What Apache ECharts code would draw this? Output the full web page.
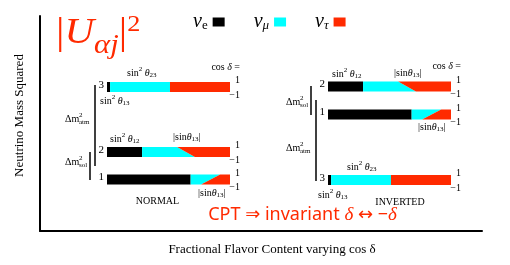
<!DOCTYPE html>
<html><head><meta charset="utf-8">
<script src="https://cdn.jsdelivr.net/npm/echarts@6/dist/echarts.min.js"></script>
<style>html,body{margin:0;padding:0;background:#fff}#c{width:510px;height:265px}</style>
</head><body><div id="c"></div>
<script>
// ---- data ----
const flavors = ['νe', 'νμ', 'ντ'];
const massStates = ['1', '2', '3'];
const normalLevels = [2.05, 4.8, 11.3];      // schematic mass-squared level (normal ordering)
const invertedLevels = [8.55, 11.35, 2.0];   // schematic mass-squared level (inverted ordering)
const nuE = [0.68, 0.285, 0.025];            // |U_e j|^2
const nuMuCosPlus = [0.24, 0.285, 0.487];    // |U_mu j|^2 at cos delta = 1
const nuMuCosMinus = [0.085, 0.43, 0.487];   // |U_mu j|^2 at cos delta = -1
const cosTicks = ['1', '−1'];

// ---- styling ----
const COLORS = ['#000000', '#00ffff', '#ff2a00'];
const RED = '#ff2a00';
const HALF = 0.5;
const SERIF = '"Liberation Serif", "DejaVu Serif", serif';

function rows(levels) {
  return massStates.map((m, i) => [levels[i], nuE[i], nuMuCosPlus[i], nuMuCosMinus[i]]);
}

function flavorRender(f) {
  return function (params, api) {
    const lvl = api.value(0), e = api.value(1), mt = api.value(2), mb = api.value(3);
    const tp = x => api.coord([x, lvl + HALF]);
    const bt = x => api.coord([x, lvl - HALF]);
    let pts;
    if (f === 0) pts = [tp(0), tp(e), bt(e), bt(0)];
    else if (f === 1) pts = [tp(e), tp(e + mt), bt(e + mb), bt(e)];
    else pts = [tp(e + mt), tp(1), bt(1), bt(e + mb)];
    return { type: 'polygon', shape: { points: pts }, style: { fill: COLORS[f] } };
  };
}

function labelRender(params, api) {
  const lvl = api.value(0);
  const s = api.coord([0, lvl]);
  const t = api.coord([1, lvl + HALF]);
  const b = api.coord([1, lvl - HALF]);
  const st = (text, size) => ({ text, font: size + 'px ' + SERIF, fill: '#000', align: 'right', verticalAlign: 'middle' });
  return { type: 'group', children: [
    { type: 'text', x: s[0] - 3, y: s[1] - 2, style: st(massStates[params.dataIndex], 11) },
    { type: 'text', x: t[0] + 10, y: t[1] - 1.5, style: st(cosTicks[0], 10) },
    { type: 'text', x: b[0] + 10, y: b[1] + 3, style: st(cosTicks[1], 10) }
  ] };
}

const series = [];
[normalLevels, invertedLevels].forEach((lv, g) => {
  flavors.forEach((name, f) => {
    series.push({ type: 'custom', name, xAxisIndex: g, yAxisIndex: g, itemStyle: { color: COLORS[f] },
      renderItem: flavorRender(f), data: rows(lv), silent: true });
  });
  series.push({ type: 'custom', name: 'labels' + g, xAxisIndex: g, yAxisIndex: g,
    renderItem: labelRender, data: rows(lv), silent: true });
});

const R = {
  t: { fontFamily: SERIF, fontSize: 10, fill: '#000' },
  i: { fontFamily: SERIF, fontSize: 10, fontStyle: 'italic', fill: '#000' },
  sup: { fontFamily: SERIF, fontSize: 7, fill: '#000', padding: [0, 0, 8, 0] },
  sub: { fontFamily: SERIF, fontSize: 7, fill: '#000', padding: [5, 0, 0, 0] }
};
function T(x, y, text, align) {
  return { type: 'text', x, y, silent: true,
    style: { text, rich: R, font: '10px ' + SERIF, fill: '#000', align: align || 'left', verticalAlign: 'middle' } };
}
const SIN2 = n => `{t|sin}{sup|2}{t| }{i|θ}{sub|${n}}`;
const ABS13 = '{t||sin}{i|θ}{sub|13}{t||}';
const COSD = '{t|cos }{i|δ}{t| =}';
function dm(x, y, sub) {
  const st = (text, size) => ({ text, font: size + 'px ' + SERIF, fill: '#000', align: 'left', verticalAlign: 'middle' });
  return { type: 'group', x, y, silent: true, children: [
    { type: 'text', x: 0, y: 0, style: st('Δm', 10) },
    { type: 'text', x: 14, y: -4, style: st('2', 7) },
    { type: 'text', x: 14, y: 3, style: st(sub, 7) }
  ] };
}
function L(x, y1, y2) {
  return { type: 'line', silent: true, shape: { x1: x, y1, x2: x, y2 }, style: { stroke: '#000', lineWidth: 1.5 } };
}

const graphic = [
  { type: 'text', x: 56, y: 34, scaleX: 1.14, silent: true, style: {
      text: '{bar||}{U|U}{sub|αj}{bar||}{sup|2}', verticalAlign: 'middle', align: 'left',
      rich: {
        bar: { fontFamily: SERIF, fontSize: 37, fill: RED },
        U: { fontFamily: SERIF, fontSize: 36, fontStyle: 'italic', fill: RED },
        sub: { fontFamily: SERIF, fontSize: 27, fontStyle: 'italic', fill: RED, padding: [24, 0, 0, 0] },
        sup: { fontFamily: SERIF, fontSize: 23, fill: RED, padding: [0, 0, 18, 0] }
      } } },
  // normal
  T(240, 67, COSD, 'right'),
  T(127, 73, SIN2('23')),
  T(100, 101, SIN2('13')),
  T(110, 139, SIN2('12')),
  T(173, 137, ABS13),
  T(198, 193, ABS13),
  T(157.5, 201, '{t|NORMAL}', 'center'),
  L(95, 85, 166), L(90, 152, 180),
  dm(65, 119, 'atm'), dm(65, 162, 'sol'),
  // inverted
  T(461, 66, COSD, 'right'),
  T(332, 74, SIN2('12')),
  T(394, 73, ABS13),
  T(418, 127, ABS13),
  T(347, 167, SIN2('23')),
  T(318, 195, SIN2('13')),
  T(400, 202, '{t|INVERTED}', 'center'),
  L(311, 86, 115), L(316, 100, 181),
  dm(286, 102, 'sol'), dm(286, 148, 'atm'),
  // CPT note
  { type: 'text', x: 302.5, y: 215, silent: true, style: {
      text: '{a|CPT ⇒ invariant }{d|δ}{a| ↔ −}{d|δ}', align: 'center', verticalAlign: 'middle',
      rich: {
        a: { fontFamily: '"Noto Sans", "DejaVu Sans", sans-serif', fontSize: 18, fill: RED },
        d: { fontFamily: SERIF, fontSize: 19, fontStyle: 'italic', fill: RED }
      } } }
];

const hiddenAxis = (g, min, max) => ({ gridIndex: g, type: 'value', min, max, show: false });

const option = {
  animation: false,
  backgroundColor: '#fff',
  legend: {
    data: flavors, left: 188, top: 7, align: 'right', icon: 'rect',
    itemWidth: 12, itemHeight: 9, itemGap: 29, selectedMode: false,
    formatter: name => name === 'νe' ? '{nu|ν}{se|e}' : `{nu|ν}{s|${name.slice(1)}}`,
    textStyle: { rich: {
      nu: { fontFamily: SERIF, fontSize: 20, fontStyle: 'italic', color: '#000' },
      s: { fontFamily: SERIF, fontSize: 13, fontStyle: 'italic', color: '#000', padding: [8, 0, 0, 0] },
      se: { fontFamily: SERIF, fontSize: 13, color: '#000', padding: [8, 0, 0, 0] }
    } }
  },
  grid: [
    { left: 107, width: 123, top: 60, height: 140 },
    { left: 328, width: 123, top: 60, height: 140 },
    { left: 40, right: 28, top: 16, bottom: 34 }
  ],
  xAxis: [
    hiddenAxis(0, 0, 1), hiddenAxis(1, 0, 1),
    { gridIndex: 2, type: 'value', min: 0, max: 1,
      axisLine: { show: true, onZero: false, lineStyle: { color: '#000', width: 2 } },
      axisTick: { show: false }, axisLabel: { show: false }, splitLine: { show: false },
      name: 'Fractional Flavor Content varying cos δ', nameLocation: 'middle', nameGap: 12,
      nameTextStyle: { fontFamily: SERIF, fontSize: 13, color: '#000', padding: [0, 0, 0, 22] } }
  ],
  yAxis: [
    hiddenAxis(0, 0, 14), hiddenAxis(1, 0, 14),
    { gridIndex: 2, type: 'value', min: 0, max: 1,
      axisLine: { show: true, onZero: false, lineStyle: { color: '#000', width: 2 } },
      axisTick: { show: false }, axisLabel: { show: false }, splitLine: { show: false },
      name: 'Neutrino Mass Squared', nameLocation: 'middle', nameGap: 14,
      nameTextStyle: { fontFamily: SERIF, fontSize: 13, color: '#000', padding: [0, 0, 0, 16] } }
  ],
  graphic,
  series
};
const chart = echarts.init(document.getElementById('c'), null, { renderer: 'canvas' });
chart.setOption(option);
</script></body></html>
